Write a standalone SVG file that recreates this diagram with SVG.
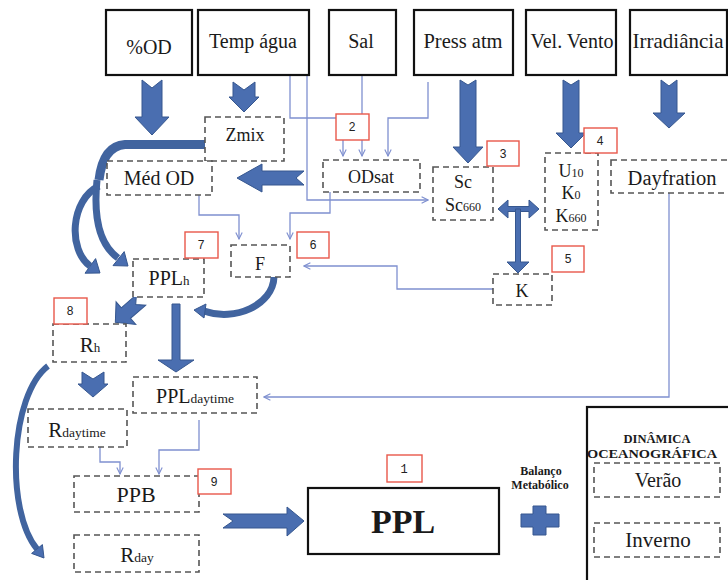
<svg xmlns="http://www.w3.org/2000/svg" width="728" height="580" viewBox="0 0 728 580">
<defs>
<style>
.top{fill:#fff;stroke:#111;stroke-width:2.2}
.dash{fill:#fff;stroke:#555;stroke-width:1.6;stroke-dasharray:6 4}
.num{fill:#fff;stroke:#e8584a;stroke-width:1.4}
.t{font-family:"Liberation Serif","Times New Roman",serif;fill:#1a1a1a;text-anchor:middle}
.n{font-family:"Liberation Sans",Arial,sans-serif;font-size:12px;fill:#222;text-anchor:middle}
.big{fill:#4a6eb0;stroke:#36578f;stroke-width:1}
.curve{fill:none;stroke:#41649f;stroke-linecap:butt}
.thin{fill:none;stroke:#7f90d0;stroke-width:1.3}
</style>
<marker id="ah" viewBox="0 0 10 10" refX="9" refY="5" markerWidth="8" markerHeight="8" markerUnits="userSpaceOnUse" orient="auto"><path d="M1,1 L9,5 L1,9" fill="none" stroke="#7f90d0" stroke-width="1.4"/></marker>
</defs>
<rect width="728" height="580" fill="#fff"/>

<g id="connectors">
<path class="thin" d="M290,75 V118 H343 V156" marker-end="url(#ah)"/>
<path class="thin" d="M307,75 V200 H428" marker-end="url(#ah)"/>
<path class="thin" d="M362,75 V156" marker-end="url(#ah)"/>
<path class="thin" d="M428,82 V118 H388 V156" marker-end="url(#ah)"/>
<path class="thin" d="M199,195 V215 H239 V239" marker-end="url(#ah)"/>
<path class="thin" d="M330,192 V213 H290 V239" marker-end="url(#ah)"/>
<path class="thin" d="M493,289 H397 V266 H304" marker-end="url(#ah)"/>
<path class="thin" d="M669,193 V397 H264" marker-end="url(#ah)"/>
<path class="thin" d="M100,447 V462 H120 V474" marker-end="url(#ah)"/>
<path class="thin" d="M199,420 V450 H159 V474" marker-end="url(#ah)"/>

<polygon class="big" points="142,80 152,88 162,80 162,117 169,117 152,135 135,117 142,117"/>
<polygon class="big" points="233,82 244,90 255,82 255,97 259,97 244,112 229,97 233,97"/>
<polygon class="big" points="460,80 468,85 476,80 476,147 483,147 468,163 453,147 460,147"/>
<polygon class="big" points="563,80 571,85 579,80 579,133 586,133 571,148 556,133 563,133"/>
<polygon class="big" points="661,80 669,86 677,80 677,113 685,113 669,128 653,113 661,113"/>
<polygon class="big" points="172,304 180,304 180,360 194,360 176,372 158,360 172,360"/>
<polygon class="big" points="82,372 93,379 104,372 104,384 108,384 93,397 78,384 82,384"/>
<polygon class="big" points="304,171 296,178 304,185 262,185 262,192 237,178 262,164 262,171"/>
<polygon class="big" points="223,514 287,514 287,507 304,521 287,536 287,528 223,528 233,521"/>
<polygon class="big" transform="translate(141,300) rotate(139)" points="0,-7 20,-7 20,-15 34,0 20,15 20,7 0,7 7,0"/>
<polygon class="big" points="498,209 508,200 508,206.5 529,206.5 529,200 539,209 529,218 529,211.5 508,211.5 508,218"/>
<polygon class="big" points="515.5,209 520.5,209 520.5,262 529,262 518,273 507,262 515.5,262"/>

<path class="curve" stroke-width="9" d="M206,144.5 L125,144.5 Q103,146 99,180"/>
<path class="curve" stroke-width="7" d="M97,180 C93,220 100,245 118,258"/>
<polygon class="big" points="113,265.6 124.2,251.6 128,266"/>
<path class="curve" stroke-width="7" d="M99,186 C70,200 68,250 90,266"/>
<polygon class="big" points="85,273.2 95.6,258.6 100,273"/>
<path class="curve" stroke-width="7" d="M274,277 C273,305 235,322 204,311"/>
<polygon class="big" points="206,304 204,318 194,310"/>
<path class="curve" stroke-width="6" d="M48,366 C10,395 5,510 37,549"/>
<polygon class="big" points="31.6,553.4 42.4,544.6 44,558"/>
</g>

<g id="n-od"><rect class="top" x="106" y="10" width="86" height="65"/><text class="t" x="149" y="54" font-size="20">%OD</text></g>
<g id="n-temp"><rect class="top" x="198" y="10" width="111" height="65"/><text class="t" x="253" y="48" font-size="20">Temp água</text></g>
<g id="n-sal"><rect class="top" x="329" y="10" width="67" height="65"/><text class="t" x="361" y="48" font-size="20">Sal</text></g>
<g id="n-press"><rect class="top" x="414" y="10" width="99" height="65"/><text class="t" x="463" y="48" font-size="20.5">Press atm</text></g>
<g id="n-vento"><rect class="top" x="526" y="10" width="90" height="65"/><text class="t" x="572" y="48" font-size="20">Vel. Vento</text></g>
<g id="n-irr"><rect class="top" x="630" y="10" width="97" height="65"/><text class="t" x="678" y="48" font-size="21">Irradiância</text></g>

<g id="n-zmix"><rect class="dash" x="205" y="117" width="79" height="44"/><text class="t" x="245" y="141" font-size="18">Zmix</text></g>
<g id="n-medod"><rect class="dash" x="107" y="161" width="105" height="34"/><text class="t" x="159" y="185" font-size="20">Méd OD</text></g>
<g id="n-odsat"><rect class="dash" x="323" y="160" width="97" height="32"/><text class="t" x="371" y="183" font-size="18">ODsat</text></g>
<g id="n-sc"><rect class="dash" x="433" y="167" width="60" height="53"/><text class="t" x="463" y="188" font-size="18">Sc</text><text class="t" x="463" y="211" font-size="18">Sc<tspan font-size="12">660</tspan></text></g>
<g id="n-u10"><rect class="dash" x="545" y="153" width="53" height="77"/><text class="t" x="571" y="177" font-size="18">U<tspan font-size="12">10</tspan></text><text class="t" x="571" y="199" font-size="18">K<tspan font-size="12">0</tspan></text><text class="t" x="571" y="222" font-size="18">K<tspan font-size="12">660</tspan></text></g>
<g id="n-day"><rect class="dash" x="611" y="160" width="125" height="33"/><text class="t" x="672" y="185" font-size="20.5">Dayfration</text></g>
<g id="n-k"><rect class="dash" x="493" y="274" width="59" height="31"/><text class="t" x="522" y="297" font-size="18">K</text></g>
<g id="n-f"><rect class="dash" x="231" y="245" width="59" height="32"/><text class="t" x="260" y="270" font-size="18">F</text></g>
<g id="n-pplh"><rect class="dash" x="133" y="259" width="71" height="38"/><text class="t" x="169" y="285" font-size="20">PPL<tspan font-size="13">h</tspan></text></g>
<g id="n-rh"><rect class="dash" x="53" y="324" width="73" height="38"/><text class="t" x="90" y="352" font-size="21">R<tspan font-size="13">h</tspan></text></g>
<g id="n-ppldaytime"><rect class="dash" x="133" y="377" width="124" height="36"/><text class="t" x="195" y="403" font-size="20">PPL<tspan font-size="13.5">daytime</tspan></text></g>
<g id="n-rdaytime"><rect class="dash" x="28" y="409" width="99" height="38"/><text class="t" x="77" y="437" font-size="21">R<tspan font-size="13.5">daytime</tspan></text></g>
<g id="n-ppb"><rect class="dash" x="74" y="476" width="125" height="36"/><text class="t" x="136" y="502" font-size="22">PPB</text></g>
<g id="n-rday"><rect class="dash" x="74" y="535" width="125" height="37"/><text class="t" x="137" y="562" font-size="21">R<tspan font-size="13.5">day</tspan></text></g>

<g id="n-ppl"><rect class="top" x="308" y="488" width="191" height="66"/><text class="t" x="403" y="533" font-size="34" font-weight="bold">PPL</text></g>
<g id="n-balanco"><text class="t" x="541" y="475" font-size="12" font-weight="bold">Balanço</text><text class="t" x="540" y="489" font-size="12" font-weight="bold">Metabólico</text>
<path class="big" d="M533,506 H546 V514 H559 V527 H546 V535 H533 V527 H521 V514 H533 Z"/></g>
<g id="n-dinamica"><rect class="top" x="587" y="407" width="160" height="190"/>
<text class="t" x="657" y="443" font-size="12" font-weight="bold" textLength="67" lengthAdjust="spacingAndGlyphs">DINÂMICA</text>
<text class="t" x="652" y="458" font-size="12" font-weight="bold" textLength="130" lengthAdjust="spacingAndGlyphs">OCEANOGRÁFICA</text></g>
<g id="n-verao"><rect class="dash" x="594" y="463" width="126" height="34"/><text class="t" x="658" y="487" font-size="20">Verão</text></g>
<g id="n-inverno"><rect class="dash" x="594" y="523" width="126" height="34"/><text class="t" x="658" y="547" font-size="21">Inverno</text></g>

<g id="labels">
<rect class="num" x="336" y="114" width="33" height="26"/><text class="n" x="352" y="131">2</text>
<rect class="num" x="487" y="141" width="32" height="25"/><text class="n" x="503" y="158">3</text>
<rect class="num" x="584" y="128" width="33" height="25"/><text class="n" x="600" y="145">4</text>
<rect class="num" x="552" y="246" width="32" height="26"/><text class="n" x="568" y="263">5</text>
<rect class="num" x="297" y="232" width="32" height="26"/><text class="n" x="313" y="249">6</text>
<rect class="num" x="185" y="232" width="33" height="26"/><text class="n" x="201" y="249">7</text>
<rect class="num" x="54" y="298" width="33" height="26"/><text class="n" x="70" y="315">8</text>
<rect class="num" x="198" y="469" width="33" height="25"/><text class="n" x="214" y="486">9</text>
<rect class="num" x="387" y="455" width="35" height="27"/><text class="n" x="404" y="473" style="font-family:'Liberation Mono',monospace">1</text>
</g>
</svg>
